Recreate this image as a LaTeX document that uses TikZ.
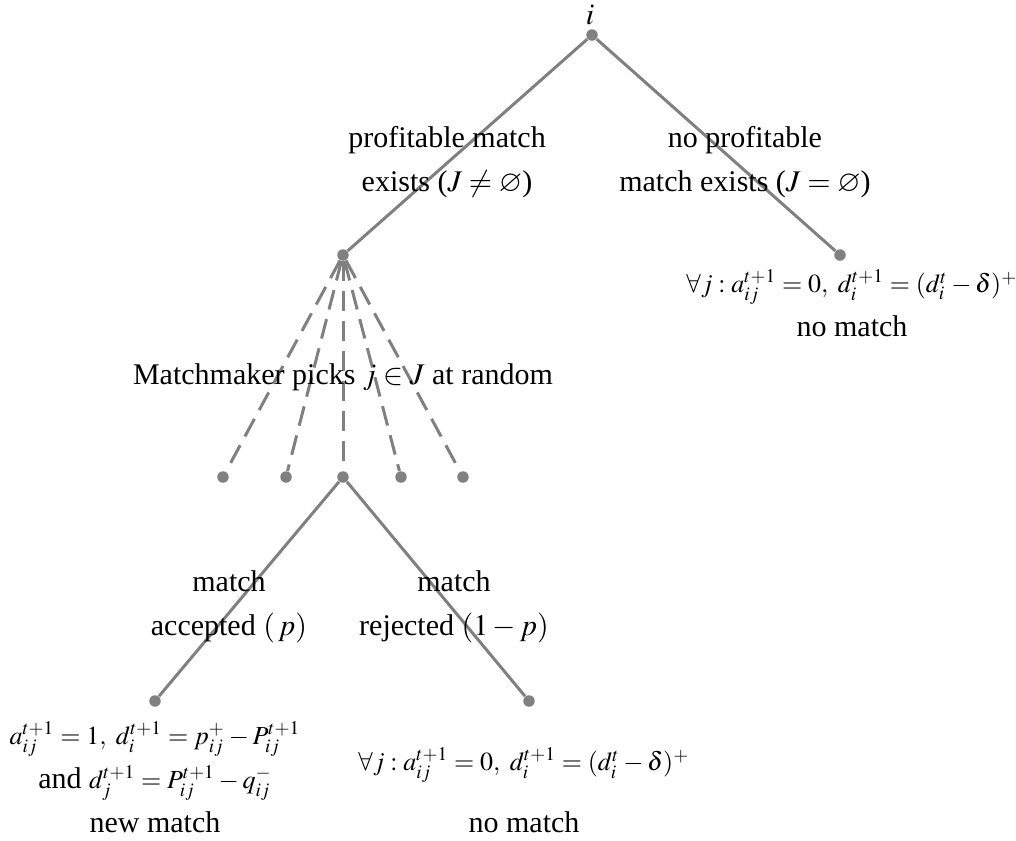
\documentclass[tikz,border=0pt]{standalone}
\usepackage{mathptmx}
\usepackage{amsmath,amssymb}
\usepackage{fontspec}
\setmainfont{Liberation Serif}
\usepackage{tikz}
\usetikzlibrary{positioning}
\usepackage{xcolor}
\definecolor{branch}{HTML}{808080}
\newcommand{\eqfont}{\fontsize{10.4}{17.6}\selectfont}

\begin{document}
\begin{tikzpicture}[
  x=0.4pt, y=-0.4pt,
  dot/.style={circle, fill=branch, draw=none, inner sep=0pt, minimum size=4.6pt},
  edge/.style={branch, line width=1.2pt},
  pick/.style={edge, dash pattern=on 8pt off 4pt},
  lbl/.style={align=center, inner sep=0pt, font=\fontsize{12}{17.6}\selectfont}
]
  \useasboundingbox (0,0) rectangle (1016,841);

  % Decision nodes
  \node[dot] (root) at (592,35) {};
  \node[dot] (hub) at (343,255) {};
  \node[dot] (fail) at (840,255) {};

  % Random picks
  \node[dot] (opt1) at (223,477) {};
  \node[dot] (opt2) at (286,477) {};
  \node[dot] (opt3) at (343,477) {};
  \node[dot] (opt4) at (401,477) {};
  \node[dot] (opt5) at (463,477) {};

  % Outcomes
  \node[dot] (accept) at (155,701) {};
  \node[dot] (reject) at (529,701) {};

  % Branches
  \draw[edge] (root) -- (hub);
  \draw[edge] (root) -- (fail);
  \draw[pick] (hub) -- (opt1);
  \draw[pick] (hub) -- (opt2);
  \draw[pick] (hub) -- (opt3);
  \draw[pick] (hub) -- (opt4);
  \draw[pick] (hub) -- (opt5);
  \draw[edge] (opt3) -- (accept);
  \draw[edge] (opt3) -- (reject);

  % Branch labels
  \node[lbl] (agent) at (590,15) {$i$};
  \node[lbl] (profit) at (447,162) {profitable match\\exists ($J\neq\varnothing$)};
  \node[lbl] (noprofit) at (745,162) {no profitable\\match exists ($J=\varnothing$)};
  \node[lbl] (picks) at (343,377) {Matchmaker picks $j\in J$ at random};
  \node[lbl] (yes) at (229,607) {match\\accepted $\left(\,p\right)$};
  \node[lbl] (no) at (454,607) {match\\rejected $\left(1-p\right)$};

  % Leaf texts
  \node[lbl] (failtxt) at (852,303)
    {{\eqfont$\forall j: a_{ij}^{t+1}=0,\ d_i^{t+1}=(d_i^t-\delta)^+$}\\no match};
  \node[lbl] (newtxt) at (155,777)
    {{\eqfont$a_{ij}^{t+1}=1,\ d_i^{t+1}=p_{ij}^+-P_{ij}^{t+1}$}\\
     and {\eqfont$d_j^{t+1}=P_{ij}^{t+1}-q_{ij}^-$}\\new match};
  \node[lbl] (rejtxt) at (524,790)
    {{\eqfont$\forall j: a_{ij}^{t+1}=0,\ d_i^{t+1}=(d_i^t-\delta)^+$}\\[7pt]no match};
\end{tikzpicture}
\end{document}
